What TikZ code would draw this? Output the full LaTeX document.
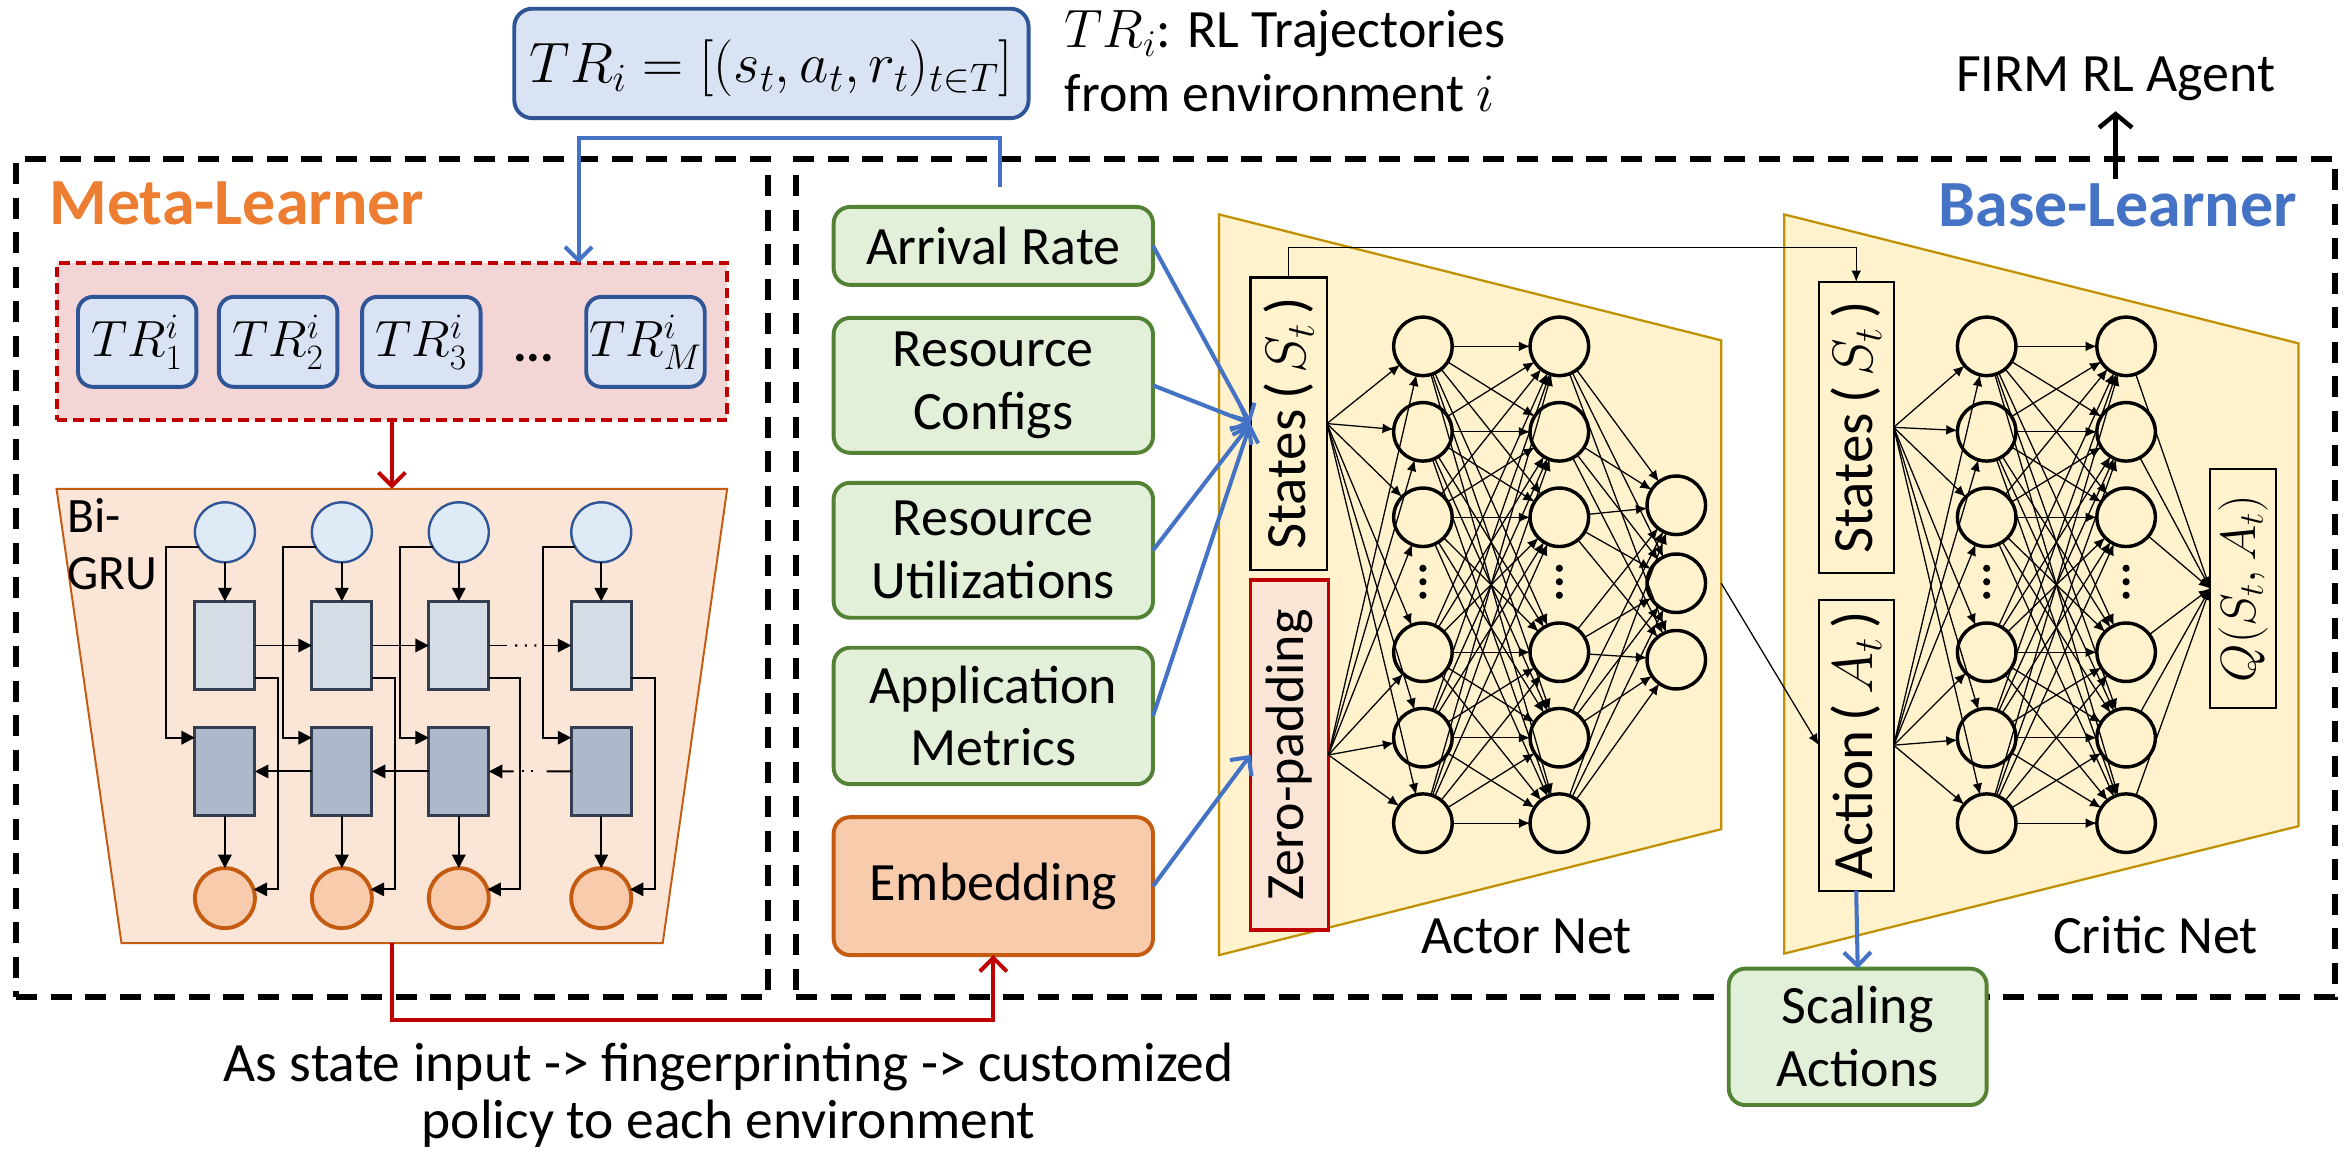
\RequirePackage{fix-cm}
\documentclass[tikz,border=0pt]{standalone}
\usepackage{fontspec}
\setmainfont{Carlito}
\usetikzlibrary{arrows.meta,calc}

\definecolor{blueD}{HTML}{2F5597}
\definecolor{blueL}{HTML}{DAE3F3}
\definecolor{blueA}{HTML}{4472C4}
\definecolor{greenD}{HTML}{548235}
\definecolor{greenL}{HTML}{E2F0D9}
\definecolor{orangeD}{HTML}{C55A11}
\definecolor{orangeL}{HTML}{F8CBAD}
\definecolor{orangeT}{HTML}{ED7D31}
\definecolor{peach}{HTML}{FBE5D6}
\definecolor{redD}{HTML}{C00000}
\definecolor{pinkL}{HTML}{F3D5D5}
\definecolor{slate}{HTML}{333F50}
\definecolor{grayL}{HTML}{D6DCE5}
\definecolor{grayM}{HTML}{ADB9CA}
\definecolor{gold}{HTML}{BF9000}
\definecolor{cream}{HTML}{FFF2CC}
\definecolor{circL}{HTML}{DEEBF7}

\newcommand{\fsz}[2]{\fontsize{#1}{#2}\selectfont}

\begin{document}
\begin{tikzpicture}[x=1pt,y=-1pt,
  every node/.style={inner sep=0pt,outer sep=0pt},
  region/.style={draw=black,line width=4pt,dash pattern=on 14pt off 9pt},
  stdbox/.style={draw=greenD,fill=greenL,line width=2.6pt,rounded corners=11pt,
    minimum width=213pt,align=center,font=\fsz{36}{42}},
  embbox/.style={stdbox,draw=orangeD,fill=orangeL},
  trbox/.style={draw=blueD,fill=blueL,line width=2.6pt,rounded corners=10pt,
    minimum width=79pt,minimum height=60pt,font=\fsz{34}{40}},
  incirc/.style={circle,draw=blueD,fill=circL,line width=1.6pt,minimum size=40pt},
  outcirc/.style={circle,draw=orangeD,fill=orangeL,line width=2.6pt,minimum size=40pt},
  fwdcell/.style={rectangle,draw=slate,fill=grayL,line width=2pt,minimum width=40pt,minimum height=59pt},
  bwdcell/.style={fwdcell,fill=grayM},
  neuron/.style={circle,draw=black,fill=cream,line width=2.3pt,minimum size=39pt},
  inbox/.style={rectangle,draw=black,fill=cream,line width=1.5pt,minimum width=51pt},
  vtext/.style={rotate=90,font=\fsz{38}{42}},
  trap/.style={fill=cream,draw=gold,line width=1.5pt},
  gru/.style={draw=black,line width=1.3pt,-{Triangle[length=9pt,width=9pt]}},
  gapdots/.style={draw=black,line width=1.4pt,dash pattern=on 1.4pt off 5pt},
  nn/.style={draw=black,line width=0.85pt,-{Latex[length=7.5pt,width=6.5pt]}},
  bluearr/.style={draw=blueA,line width=2.7pt,-{Straight Barb[length=9pt,width=18pt]}},
  redarr/.style={draw=redD,line width=2.7pt,-{Straight Barb[length=9pt,width=18pt]}},
  blackarr/.style={draw=black,line width=3pt,-{Straight Barb[length=9pt,width=22pt]}},
]
\fill[white] (0,0) rectangle (1568,769);
\useasboundingbox (0,0) rectangle (1568,769);

% ---------- learner regions ----------
\node[region,minimum width=501pt,minimum height=559pt] (metaBox) at (261.5,385.5) {};
\node[region,minimum width=1026pt,minimum height=559pt] (baseBox) at (1044,385.5) {};
\node[font=\fsz{44}{50}\bfseries,text=orangeT,anchor=base west] (metaT) at (33,150) {Meta-Learner};
\node[font=\fsz{44}{50}\bfseries,text=blueA,anchor=base east] (baseT) at (1532,151) {Base-Learner};

% ---------- trajectory definition ----------
\node[draw=blueD,fill=blueL,line width=2.6pt,rounded corners=12pt,
      minimum width=343pt,minimum height=73pt] (trtop) at (514.5,42.3) {};
\node[font=\fsz{38}{42},anchor=base] (trtopT) at (514.5,55) {$TR_i=[(s_t,a_t,r_t)_{t\in T}]$};
\node[font=\fsz{36}{42},anchor=base west] (note1) at (710,32) {$TR_i$: RL Trajectories};
\node[font=\fsz{36}{42},anchor=base west] (note2) at (710,74.5) {from environment $i$};

% ---------- trajectory set ----------
\node[draw=redD,fill=pinkL,line width=2.4pt,dash pattern=on 7pt off 4pt,
      minimum width=447pt,minimum height=104.5pt] (trset) at (261.4,227.8) {};
\node[trbox] (tr1) at (91.5,228) {$TR_1^i$};
\node[trbox] (tr2) at (185.5,228) {$TR_2^i$};
\node[trbox] (tr3) at (281,228) {$TR_3^i$};
\node[font=\fsz{34}{40}\bfseries] (trdots) at (356,239) {...};
\node[trbox] (tr4) at (430.5,228) {$TR_M^i$};

% ---------- Bi-GRU ----------
\coordinate (gruTop) at (261.4,326);
\coordinate (gruBot) at (261.4,629);
\filldraw[fill=peach,draw=orangeD,line width=1.3pt]
  (37.7,326) -- (485,326) -- (442,629) -- (81,629) -- cycle;
\node[font=\fsz{33}{38},anchor=base west] (biT) at (45,355) {Bi-};
\node[font=\fsz{33}{38},anchor=base west] (gruT) at (45,393) {GRU};

\foreach \i/\x in {1/150,2/228,3/306,4/401} {
  \node[incirc]  (tc\i) at (\x,355) {};
  \node[fwdcell] (ur\i) at (\x,430.5) {};
  \node[bwdcell] (lr\i) at (\x,514.5) {};
  \node[outcirc] (oc\i) at (\x,599) {};
}
\foreach \i in {1,...,4} {
  \draw[gru] (tc\i) -- (ur\i);
  \draw[gru] (lr\i) -- (oc\i);
  \draw[gru] (tc\i.210) -| ($(lr\i.north west)+(-19,7)$) -- ($(lr\i.north west)+(0,7)$);
}
\foreach \i/\d in {1/16,2/16,3/22,4/17}
  \draw[gru] ($(ur\i.south east)+(0,-8)$) -| ($(oc\i.17)+(\d,0)$) -- (oc\i.17);
% forward chain
\draw[gru] (ur1) -- (ur2);
\draw[gru] (ur2) -- (ur3);
\draw[draw=black,line width=1.3pt] (ur3.east) -- ($(ur3.east)!0.22!(ur4.west)$);
\draw[gapdots] ($(ur3.east)!0.32!(ur4.west)$) -- ($(ur3.east)!0.58!(ur4.west)$);
\draw[gru] ($(ur3.east)!0.66!(ur4.west)$) -- (ur4.west);
% backward chain
\draw[gru] (lr2) -- (lr1);
\draw[gru] (lr3) -- (lr2);
\draw[gru] ($(lr3.east)!0.3!(lr4.west)$) -- (lr3.east);
\draw[gapdots] ($(lr3.east)!0.4!(lr4.west)$) -- ($(lr3.east)!0.62!(lr4.west)$);
\draw[draw=black,line width=1.3pt] ($(lr3.east)!0.7!(lr4.west)$) -- (lr4.west);

\draw[redarr] (trset.south) -- (gruTop);

% ---------- state inputs ----------
\node[stdbox,minimum height=52pt] (arr) at (662.5,164) {Arrival Rate};
\node[stdbox,minimum height=90pt] (cfg) at (662.5,257) {Resource\\Configs};
\node[stdbox,minimum height=90pt] (utl) at (662.5,367) {Resource\\Utilizations};
\node[stdbox,minimum height=91pt] (app) at (662.5,477.5) {Application\\Metrics};
\node[embbox,minimum height=92pt] (emb) at (662.5,591) {Embedding};

\coordinate (tap) at ($(arr.north)+(4.5,-13)$);
\draw[bluearr] (tap) -- ++(0,-33) -| ($(trset.north east)+(-99,0)$);
\draw[redarr] (gruBot) -- ++(0,51) -| (emb.south);

% ---------- actor net ----------
\coordinate (aTL) at (813,143);
\coordinate (aTR) at (1148,227);
\coordinate (aBR) at (1148,553);
\coordinate (aBL) at (813,637);
\filldraw[trap] (aTL) -- (aTR) -- (aBR) -- (aBL) -- cycle;

% ---------- critic net ----------
\coordinate (cTL) at (1190,143);
\coordinate (cTR) at (1533,229);
\coordinate (cBR) at (1533,551);
\coordinate (cBL) at (1190,636);
\filldraw[trap] (cTL) -- (cTR) -- (cBR) -- (cBL) -- cycle;

\node[inbox,minimum height=195pt] (aStates) at (859.5,282.5) {};
\node[vtext] (aStatesT) at (aStates) {States\,($\,S_t\,$)};
\node[draw=redD,fill=peach,line width=2.6pt,minimum width=52pt,minimum height=233pt] (aZP) at (860,503.5) {};
\node[vtext,font=\fsz{36}{42}] (aZPT) at (aZP) {Zero-padding};

\node[inbox,minimum width=50pt,minimum height=194pt] (cStates) at (1238,285) {};
\node[vtext] (cStatesT) at (cStates) {States\,($\,S_t\,$)};
\node[inbox,minimum width=50pt,minimum height=194pt] (cAction) at (1238,497) {};
\node[vtext] (cActionT) at (cAction) {Action\,($\,A_t\,$)};
\node[inbox,minimum width=44pt,minimum height=159pt] (Q) at (1496,392.5) {};
\node[rotate=90,font=\fsz{33}{40}] (QT) at (Q) {$Q(S_t,A_t)$};

\foreach \j/\y in {1/231,2/288,3/345,4/435,5/492,6/549} {
  \node[neuron] (a1\j) at (949,\y) {};
  \node[neuron] (a2\j) at (1040,\y) {};
  \node[neuron] (c1\j) at (1325,\y) {};
  \node[neuron] (c2\j) at (1418,\y) {};
}
\foreach \j/\y in {1/337,2/389,3/440}
  \node[neuron] (a3\j) at (1118,\y) {};

\foreach \x in {949,1040,1325,1418}
  \foreach \y in {379,388,397}
    \fill[black] (\x,\y) circle (2.4);

\foreach \j in {1,...,6} {
  \draw[nn] (aStates.east) -- (a1\j);
  \draw[nn] (aZP.east) -- (a1\j);
  \draw[nn] (cStates.east) -- (c1\j);
  \draw[nn] (cAction.east) -- (c1\j);
  \foreach \k in {1,...,6} {
    \draw[nn] (a1\j) -- (a2\k);
    \draw[nn] (c1\j) -- (c2\k);
  }
  \foreach \k in {1,2,3}
    \draw[nn] (a2\j) -- (a3\k);
  \draw[nn] (c2\j) -- (Q.west);
}

\coordinate (aOut) at (a32 -| aTR);
\draw[nn] (aOut) -- (cAction.west);
\draw[nn] (aStates.north) -- ++(0,-20) -| (cStates.north);

% ---------- inputs into the actor ----------
\foreach \n in {arr,cfg,utl,app}
  \draw[bluearr] (\n.east) -- (aStates.west);
\draw[bluearr] (emb.east) -- (aZP.west);

\node[font=\fsz{36}{42},anchor=base] (actorT) at (1018,636) {Actor Net};
\node[font=\fsz{36}{42},anchor=base] (criticT) at (1437.5,636) {Critic Net};

% ---------- outputs ----------
\node[stdbox,minimum width=172pt,minimum height=91pt] (scal) at (1239,691.5) {Scaling\\Actions};
\draw[bluearr] (cAction.south) -- (scal.north);

\node[font=\fsz{36}{42},anchor=base] (firm) at (1411,61) {FIRM RL Agent};
\coordinate (agentTail) at ($(firm.south)+(0,52)$);
\draw[blackarr] (agentTail) -- ($(firm.south)+(0,7)$);

\node[font=\fsz{37}{38},anchor=base] (cap1) at (486,721) {As state input -> fingerprinting -> customized};
\node[font=\fsz{37}{38},anchor=base] (cap2) at (486,759) {policy to each environment};
\end{tikzpicture}
\end{document}
